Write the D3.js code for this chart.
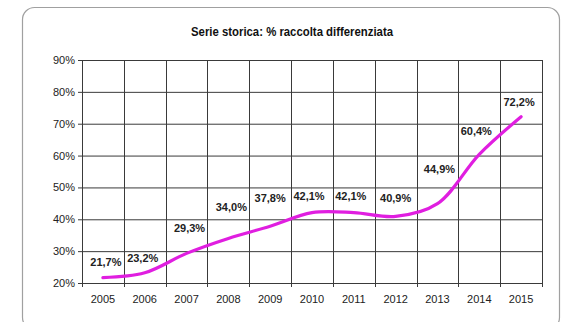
<!DOCTYPE html>
<html>
<head>
<meta charset="utf-8">
<script src="https://cdn.jsdelivr.net/npm/d3@7"></script>
<style>
  html, body { margin: 0; padding: 0; background: #fff; }
  svg { display: block; }
</style>
</head>
<body>
<svg id="chart" width="563" height="322"></svg>
<script>
// Anni e percentuale di raccolta differenziata
const years = ["2005","2006","2007","2008","2009","2010","2011","2012","2013","2014","2015"];
const values = [21.7, 23.2, 29.3, 34.0, 37.8, 42.1, 42.1, 40.9, 44.9, 60.4, 72.2];
const yTicks = [20, 30, 40, 50, 60, 70, 80, 90];
const title = "Serie storica: % raccolta differenziata";

// spostamento manuale delle etichette (px) rispetto al punto
const labelShiftX = [3, -2, 3, 3, 0, -3, -3, 0, 2, -3, -2];
const labelShiftY = [12, 11, 21, 27, 24, 13, 13, 14, 31, 19, 11];

const svg = d3.select("#chart");
const plot = { left: 82, right: 542, top: 60, bottom: 283 };
const font = "'Liberation Sans', Arial, sans-serif";

// cornice arrotondata
svg.append("rect")
  .attr("x", 22.5).attr("y", 7.5)
  .attr("width", 537).attr("height", 322)
  .attr("rx", 12).attr("ry", 12)
  .attr("fill", "#fff")
  .attr("stroke", "#a0a0a0").attr("stroke-width", 1.2);

svg.append("text")
  .attr("x", 292).attr("y", 36)
  .attr("text-anchor", "middle")
  .attr("font-family", font)
  .attr("font-weight", "bold")
  .attr("font-size", 13.5)
  .attr("textLength", 202)
  .attr("lengthAdjust", "spacingAndGlyphs")
  .attr("fill", "#111")
  .text(title);

const x = d3.scaleBand().domain(years).range([plot.left, plot.right]);
const y = d3.scaleLinear().domain([20, 90]).range([plot.bottom, plot.top]);

const fmt = v => d3.format(".1f")(v).replace(".", ",") + "%";

// griglia orizzontale + asse Y
const yAxis = d3.axisLeft(y).tickValues(yTicks)
  .tickSize(-(plot.right - plot.left))
  .tickFormat(d => d + "%")
  .tickPadding(7);
const gy = svg.append("g").attr("transform", `translate(${plot.left},0)`).call(yAxis);
gy.select(".domain").remove();
gy.selectAll(".tick line").attr("stroke", "#3a3a3a").attr("stroke-width", 1)
  .attr("x1", -4);
gy.selectAll(".tick text")
  .attr("font-family", font)
  .attr("font-size", 11).attr("fill", "#222");

// griglia verticale
const edges = years.map(d => x(d)).concat([plot.right]);
svg.append("g").selectAll("line").data(edges).join("line")
  .attr("x1", d => Math.round(d) + 0.5).attr("x2", d => Math.round(d) + 0.5)
  .attr("y1", plot.top).attr("y2", plot.bottom + 4)
  .attr("stroke", "#3a3a3a").attr("stroke-width", 1);

// asse X
const xAxis = d3.axisBottom(x).tickSize(0).tickPadding(12);
const gx = svg.append("g").attr("transform", `translate(0,${plot.bottom})`).call(xAxis);
gx.select(".domain").attr("stroke", "#3a3a3a");
gx.selectAll(".tick text")
  .attr("font-family", font)
  .attr("font-size", 11).attr("fill", "#222");

// linea dei dati
const cx = d => x(d) + x.bandwidth() / 2;
const line = d3.line()
  .x((d, i) => cx(years[i]))
  .y(d => y(d))
  .curve(d3.curveCatmullRom.alpha(0.5));
svg.append("path")
  .datum(values)
  .attr("d", line)
  .attr("fill", "none")
  .attr("stroke", "#e01ee0")
  .attr("stroke-width", 3.2)
  .attr("stroke-linecap", "round");

// etichette dei valori
svg.append("g").selectAll("text").data(values).join("text")
  .attr("x", (d, i) => cx(years[i]) + labelShiftX[i])
  .attr("y", (d, i) => y(d) - labelShiftY[i])
  .attr("text-anchor", "middle")
  .attr("font-family", font)
  .attr("font-weight", "bold")
  .attr("font-size", 11)
  .attr("fill", "#222")
  .text(fmt);
</script>
</body>
</html>
